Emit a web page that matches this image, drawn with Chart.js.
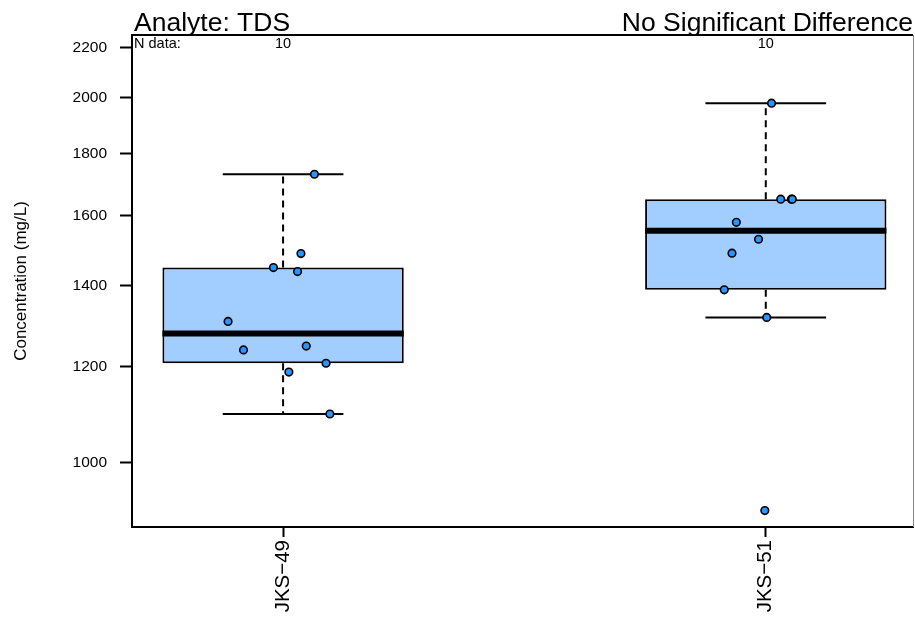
<!DOCTYPE html>
<html><head><meta charset="utf-8">
<script src="https://cdn.jsdelivr.net/npm/chart.js@4/dist/chart.umd.min.js"></script>
<style>html,body{margin:0;padding:0;background:#fff}#wrap{width:915px;height:617px;position:relative}</style>
</head><body><div id="wrap"><canvas id="c"></canvas></div>
<script>
// ---- data ----
const categories = ['JKS\u221249', 'JKS\u221251'];
const nData = [10, 10];
const titleLeft = 'Analyte: TDS';
const titleRight = 'No Significant Difference';
const yLabel = 'Concentration (mg/L)';
const yTickValues = [1000, 1200, 1400, 1600, 1800, 2000, 2200];

const jks49Values = [1730, 1488, 1449, 1438, 1308, 1248, 1239, 1208, 1188, 1097];
const jks49Jitter = [0.065, 0.037, -0.020, 0.030, -0.114, 0.048, -0.082, 0.089, 0.012, 0.097];
const jks51Values = [1980, 1650, 1650, 1650, 1579, 1529, 1489, 1389, 1318, 913];
const jks51Jitter = [0.012, 0.031, 0.053, 0.055, -0.061, -0.015, -0.070, -0.086, 0.002, -0.002];

const lowerWhisker = [1097, 1318];
const q1 = [1208, 1389];
const median = [1278, 1554];
const q3 = [1449, 1650];
const upperWhisker = [1730, 1980];

// ---- styling ----
const BOX_HALF = 0.25, CAP_HALF = 0.125;
const FONT = '"Liberation Sans", Arial, Helvetica, sans-serif';
Chart.defaults.font.family = FONT;
Chart.defaults.color = '#000';

const groups = [
  {values: jks49Values, jitter: jks49Jitter},
  {values: jks51Values, jitter: jks51Jitter}
];

const pointData = [];
groups.forEach((g, i) => g.values.forEach((v, j) => pointData.push({x: i + 1 + g.jitter[j], y: v})));

const datasets = [];
datasets.push({
  type: 'scatter', data: pointData, order: 0,
  pointRadius: 3.8, pointBorderWidth: 1.6,
  backgroundColor: '#2B95FF', borderColor: '#000'
});
categories.forEach((c, i) => {
  const x = i + 1;
  const line = (data, extra) => Object.assign({
    type: 'line', data, borderColor: '#000', borderWidth: 2, pointRadius: 0,
    fill: false, tension: 0, borderCapStyle: 'butt'
  }, extra);
  datasets.push(line([{x: x - BOX_HALF, y: median[i]}, {x: x + BOX_HALF, y: median[i]}], {borderWidth: 6, order: 1}));
  datasets.push(line([{x: x, y: q3[i]}, {x: x, y: upperWhisker[i]}], {borderDash: [7, 5], order: 6}));
  datasets.push(line([{x: x, y: q1[i]}, {x: x, y: lowerWhisker[i]}], {borderDash: [7, 5], order: 6}));
  datasets.push(line([{x: x - CAP_HALF, y: upperWhisker[i]}, {x: x + CAP_HALF, y: upperWhisker[i]}], {order: 2}));
  datasets.push(line([{x: x - CAP_HALF, y: lowerWhisker[i]}, {x: x + CAP_HALF, y: lowerWhisker[i]}], {order: 2}));
});
datasets.push({
  type: 'bar', order: 3,
  data: categories.map((c, i) => ({x: i + 1, y: [q1[i], q3[i]]})),
  backgroundColor: '#A2CEFF', borderColor: '#000', borderWidth: 2, borderSkipped: false,
  barPercentage: 0.5, categoryPercentage: 1, grouped: false
});

const decor = {
  id: 'decor',
  afterDraw(chart) {
    const {ctx, chartArea: a} = chart;
    const xs = chart.scales.x;
    ctx.save();
    ctx.strokeStyle = '#000'; ctx.lineWidth = 2;
    ctx.beginPath(); ctx.moveTo(a.left - 1, a.top); ctx.lineTo(a.right, a.top); ctx.stroke();
    ctx.strokeStyle = '#888'; ctx.lineWidth = 1;
    ctx.beginPath(); ctx.moveTo(a.right + 0.5, a.top); ctx.lineTo(a.right + 0.5, a.bottom); ctx.stroke();
    ctx.fillStyle = '#000';
    ctx.textBaseline = 'alphabetic';
    ctx.font = '26.5px ' + FONT;
    ctx.textAlign = 'left';
    ctx.fillText(titleLeft, a.left + 2, a.top - 4);
    ctx.textAlign = 'right';
    ctx.fillText(titleRight, a.right, a.top - 4);
    ctx.font = '14.5px ' + FONT;
    ctx.textAlign = 'left';
    ctx.fillText('N data:', a.left + 2, a.top + 13);
    ctx.textAlign = 'center';
    nData.forEach((n, i) => ctx.fillText(String(n), xs.getPixelForValue(i + 1), a.top + 13));
    ctx.restore();
  }
};

new Chart(document.getElementById('c'), {
  type: 'scatter',
  data: {datasets},
  plugins: [decor],
  options: {
    responsive: true, maintainAspectRatio: false, animation: false,
    layout: {autoPadding: false, padding: {top: 35, right: 2, left: 0, bottom: 0}},
    plugins: {legend: {display: false}, tooltip: {enabled: false}, title: {display: false}},
    scales: {
      x: {
        type: 'linear', min: 0.687, max: 2.305, offset: false,
        afterBuildTicks: s => { s.ticks = [{value: 1}, {value: 2}]; },
        afterFit: s => { s.height = 90; s.paddingLeft = 0; s.paddingRight = 0; },
        ticks: {callback: v => categories[v - 1], minRotation: 90, maxRotation: 90, autoSkip: false,
                font: {size: 20.5}, color: '#000', padding: 3},
        grid: {drawOnChartArea: false, drawTicks: true, tickLength: 10, tickColor: '#000', tickWidth: 2, offset: false},
        border: {display: true, color: '#000', width: 2}
      },
      y: {
        type: 'logarithmic', min: 885, max: 2254, beginAtZero: false,
        afterBuildTicks: s => { s.ticks = yTickValues.map(v => ({value: v})); },
        afterFit: s => { s.width = 132; s.paddingTop = 0; s.paddingBottom = 0; },
        ticks: {callback: v => String(v), font: {size: 15.5}, color: '#000', padding: 13, autoSkip: false},
        grid: {drawOnChartArea: false, drawTicks: true, tickLength: 12, tickColor: '#000', tickWidth: 2},
        border: {display: true, color: '#000', width: 2},
        title: {display: true, text: yLabel, font: {size: 17}, color: '#000', padding: {top: 11, bottom: 0}}
      }
    }
  }
});
</script></body></html>
